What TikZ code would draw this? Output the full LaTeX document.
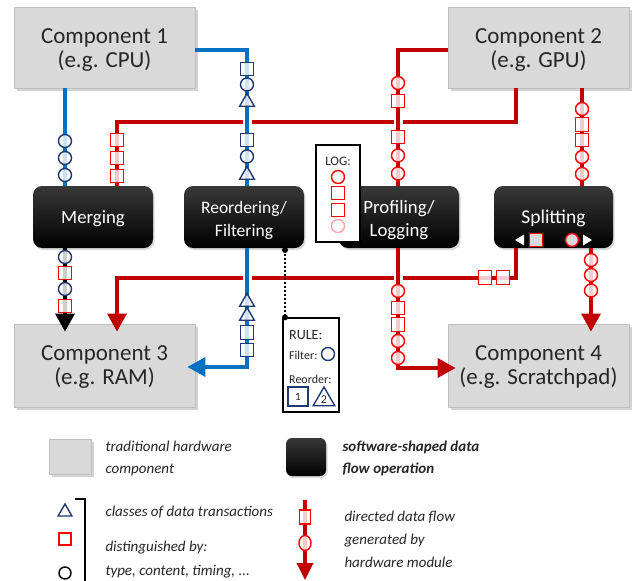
\documentclass[tikz,border=0pt]{standalone}
\usepackage{fontspec}
\setmainfont{Carlito}
\usetikzlibrary{arrows.meta,shapes.geometric,shadows}
\definecolor{hwgray}{HTML}{D9D9D9}
\definecolor{hwedge}{HTML}{BFBFBF}
\definecolor{lblue}{HTML}{0070C0}
\definecolor{navy}{HTML}{1F3A70}
\definecolor{dred}{HTML}{C00000}
\definecolor{bred}{HTML}{FF0000}
\definecolor{txt}{HTML}{262626}
\begin{document}
\begin{tikzpicture}[x=1pt,y=-1pt,
  hw/.style={rectangle, draw=hwedge, line width=0.8pt, fill=hwgray, minimum width=181pt, minimum height=81pt, inner sep=0pt, drop shadow={opacity=0.35, shadow xshift=2.5pt, shadow yshift=-2.5pt}},
  hwt/.style={align=center, inner sep=0pt, text=txt, font=\fontsize{23}{24}\selectfont},
  sw/.style={rectangle, rounded corners=9pt, top color=black!78, bottom color=black, draw=none, minimum width=120pt, minimum height=62pt, inner sep=0pt, drop shadow={opacity=0.3, shadow xshift=1.5pt, shadow yshift=-2pt}},
  swt/.style={align=center, inner sep=0pt, text=white, font=\fontsize{18.8}{23}\selectfont},
  flow/.style={line width=3.5pt},
  bl/.style={flow, draw=lblue},
  rl/.style={flow, draw=dred},
  tip/.style={-{Triangle[width=19pt,length=18pt]}, shorten >=-8pt},
  cover/.style={draw=white, line width=9pt},
  mk/.style={inner sep=0pt, line width=1.4pt, fill=white, fill opacity=0.8},
  ci/.style={mk, circle, minimum size=13pt},
  sq/.style={mk, rectangle, minimum width=13.5pt, minimum height=13.5pt},
  tr/.style={mk, regular polygon, regular polygon sides=3, minimum size=17pt},
  nv/.style={draw=navy},
  rd/.style={draw=bred},
  legtext/.style={anchor=west, align=left, text=txt, font=\fontsize{15}{22}\selectfont\itshape},
  small/.style={anchor=west, inner sep=0pt, text=txt, font=\fontsize{12}{14}\selectfont}
]
\useasboundingbox (0,0) rectangle (633,581);

% hardware components
\node[hw] (c1) at (104.5,47.5) {};
\node[hw] (c2) at (538.5,47.5) {};
\node[hw, minimum height=83pt] (c3) at (104.5,365.5) {};
\node[hw, minimum height=83pt] (c4) at (538.5,365.5) {};
\node[hwt] (c1t) at ([yshift=-3pt]c1.center) {Component 1\\(e.g. CPU)};
\node[hwt] (c2t) at ([yshift=-3pt]c2.center) {Component 2\\(e.g. GPU)};
\node[hwt] (c3t) at ([yshift=-2pt]c3.center) {Component 3\\(e.g. RAM)};
\node[hwt] (c4t) at ([yshift=-2pt]c4.center) {Component 4\\(e.g. Scratchpad)};

% software-shaped operations
\node[sw] (mer) at (93,217) {};
\node[sw] (reo) at (244,217) {};
\node[sw] (pro) at (399,217) {};
\node[sw, minimum width=119pt] (spl) at (553.5,217) {};
\node[swt, anchor=base] (mert) at (93,223) {Merging};
\node[swt, font=\fontsize{17.5}{23}\selectfont] (reot) at ([yshift=-3pt]reo.center) {Reordering/\\Filtering};
\node[swt] (prot) at ([yshift=-3pt]pro.center) {Profiling/\\Logging};
\node[swt, anchor=base, font=\fontsize{19.5}{23}\selectfont] (splt) at (553.5,223) {Splitting};
\fill[white] (524,234.5) -- (515,240) -- (524,245.5) -- cycle;
\node[rectangle, draw=bred, line width=1.4pt, fill=hwgray, minimum size=13pt, inner sep=0pt] (splsq) at (536,240) {};
\node[circle, draw=bred, line width=1.4pt, fill=hwgray, minimum size=13pt, inner sep=0pt] (splci) at (572,240) {};
\fill[white] (583,234.5) -- (592,240) -- (583,245.5) -- cycle;

% red horizontal routes (underneath)
\draw[rl] (c2.south -| 516,0) -- (516,122) -- (117,122) -- (mer.north -| 117,0);
\draw[rl,tip] (spl.south -| 516,0) -- (516,278) -- (117,278) -- (c3.north -| 117,0);

% bridges
\draw[cover] (247,116) -- (247,128);
\draw[cover] (398,116) -- (398,128);
\draw[cover] (247,272) -- (247,284);
\draw[cover] (398,272) -- (398,284);

% other routes
\draw[bl] (c1.south -| 65,0) -- (mer.north -| 65,0);
\draw[bl] (c1.east |- 0,50) -- (247,50) -- (reo.north -| 247,0);
\draw[rl] (c2.west |- 0,50) -- (398,50) -- (pro.north -| 398,0);
\draw[rl] (c2.south -| 582,0) -- (spl.north -| 582,0);
\draw[flow, draw=black, tip] (mer.south -| 65,0) -- (c3.north -| 65,0);
\draw[bl, tip] (reo.south -| 247,0) -- (247,367) -- (c3.east |- 0,367);
\draw[rl, tip] (pro.south -| 398,0) -- (398,368) -- (c4.west |- 0,368);
\draw[rl, tip] (spl.south -| 591,0) -- (c4.north -| 591,0);

% markers
\foreach \y [count=\i] in {141,158,175} \node[ci,nv] (ma\i) at (65,\y) {};
\foreach \y [count=\i] in {140,158,176} \node[sq,rd] (mb\i) at (117,\y) {};
\foreach \y/\s [count=\i] in {69/sq,84.5/ci,102/tr,140/sq,156.5/ci,175/tr} \node[\s,nv] (mc\i) at (247,\y) {};
\foreach \y/\s [count=\i] in {83/ci,101/sq,137/sq,155.5/ci,173.5/ci} \node[\s,rd] (md\i) at (398,\y) {};
\foreach \y/\s [count=\i] in {109/ci,124.5/sq,140/sq,157/ci,174/ci} \node[\s,rd] (me\i) at (582,\y) {};
\foreach \y/\s/\c [count=\i] in {257/ci/nv,273/sq/rd,289/ci/nv,306/sq/rd} \node[\s,\c] (mf\i) at (65,\y) {};
\foreach \y/\s [count=\i] in {302/tr,316/tr,332.5/sq,350/sq} \node[\s,nv] (mg\i) at (247,\y) {};
\foreach \y/\s [count=\i] in {291/ci,308/sq,324.5/sq,341/ci,358/ci} \node[\s,rd] (mh\i) at (398,\y) {};
\foreach \y [count=\i] in {260,275,290.5} \node[ci,rd] (mi\i) at (591,\y) {};
\foreach \x [count=\i] in {485,503} \node[sq,rd] (mj\i) at (\x,277.5) {};

% LOG box
\node[draw=black, line width=1.3pt, fill=white, minimum width=44pt, minimum height=97pt, inner sep=0pt] (log) at (338,193.5) {};
\node[text=txt, font=\fontsize{13}{15}\selectfont, inner sep=0pt] (logt) at (338,161) {LOG:};
\node[ci,rd] (lg1) at (338,177) {};
\node[sq,rd] (lg2) at (338,193) {};
\node[sq,rd] (lg3) at (338,210) {};
\node[ci,draw=bred, draw opacity=0.35] (lg4) at (338,226) {};

% RULE box
\coordinate (dtop) at (285,250);
\node[draw=black, line width=1.3pt, fill=white, minimum width=56pt, minimum height=94pt, inner sep=0pt] (rule) at (311,365) {};
\draw[line width=2pt, dash pattern=on 2pt off 2pt] (dtop) -- (rule.north west -| dtop);
\fill (dtop) circle[radius=3pt];
\fill (rule.north west -| dtop) circle[radius=3pt];
\node[small, font=\fontsize{14}{16}\selectfont] (rt1) at (289,335) {RULE:};
\node[small] (rt2) at (289,355) {Filter:};
\node[ci,nv, fill opacity=1] (rc) at (328,354) {};
\node[small] (rt3) at (289,379) {Reorder:};
\node[rectangle, draw=navy, line width=1.4pt, minimum width=20pt, minimum height=19pt, inner sep=0pt, font=\fontsize{11}{12}\selectfont, text=txt] (r1) at (298,396.5) {1};
\node[regular polygon, regular polygon sides=3, draw=navy, line width=1.4pt, minimum size=25pt, inner sep=0pt] (r2) at (324,399.5) {};
\node[font=\fontsize{12}{12}\selectfont, text=txt, inner sep=0pt] (r2t) at (324,400) {2};

% legend
\node[hw, minimum width=42pt, minimum height=35pt] (lhw) at (70,456.5) {};
\node[legtext] (lhwt) at (102,458) {traditional hardware\\component};
\node[sw, minimum width=40pt, minimum height=38pt, rounded corners=6pt] (lsw) at (306,457) {};
\node[legtext, font=\fontsize{15}{22}\selectfont\bfseries\itshape] (lswt) at (339,458) {software-shaped data\\flow operation};

\node[regular polygon, regular polygon sides=3, draw=navy, line width=1.4pt, minimum size=16pt, inner sep=0pt] (ltr) at (65,512) {};
\node[rectangle, draw=bred, line width=1.4pt, minimum size=12pt, inner sep=0pt] (lsq) at (65,539) {};
\node[circle, draw=black, line width=1.4pt, minimum size=12pt, inner sep=0pt] (lci) at (65,573) {};
\draw[line width=1.6pt] (75,499) -- (85,499) -- (85,584);
\node[legtext] (lt1) at (102,512) {classes of data transactions};
\node[legtext, font=\fontsize{15}{24}\selectfont\itshape] (lt2) at (102,560) {distinguished by:\\type, content, timing, ...};

\coordinate (la) at (305,500);
\coordinate (lb) at (305,580);
\draw[rl, -{Triangle[width=16pt,length=17pt]}] (la) -- (lb);
\node[rectangle, draw=bred, line width=1.4pt, fill=white, fill opacity=0.8, minimum width=11pt, minimum height=14pt, inner sep=0pt] (lfs) at (305,517) {};
\node[ellipse, draw=bred, line width=1.4pt, fill=white, fill opacity=0.8, minimum width=12pt, minimum height=15pt, inner sep=0pt] (lfc) at (305,543) {};
\node[legtext, font=\fontsize{15}{23}\selectfont\itshape] (lft) at (341,539) {directed data flow\\generated by\\hardware module};
\end{tikzpicture}
\end{document}
